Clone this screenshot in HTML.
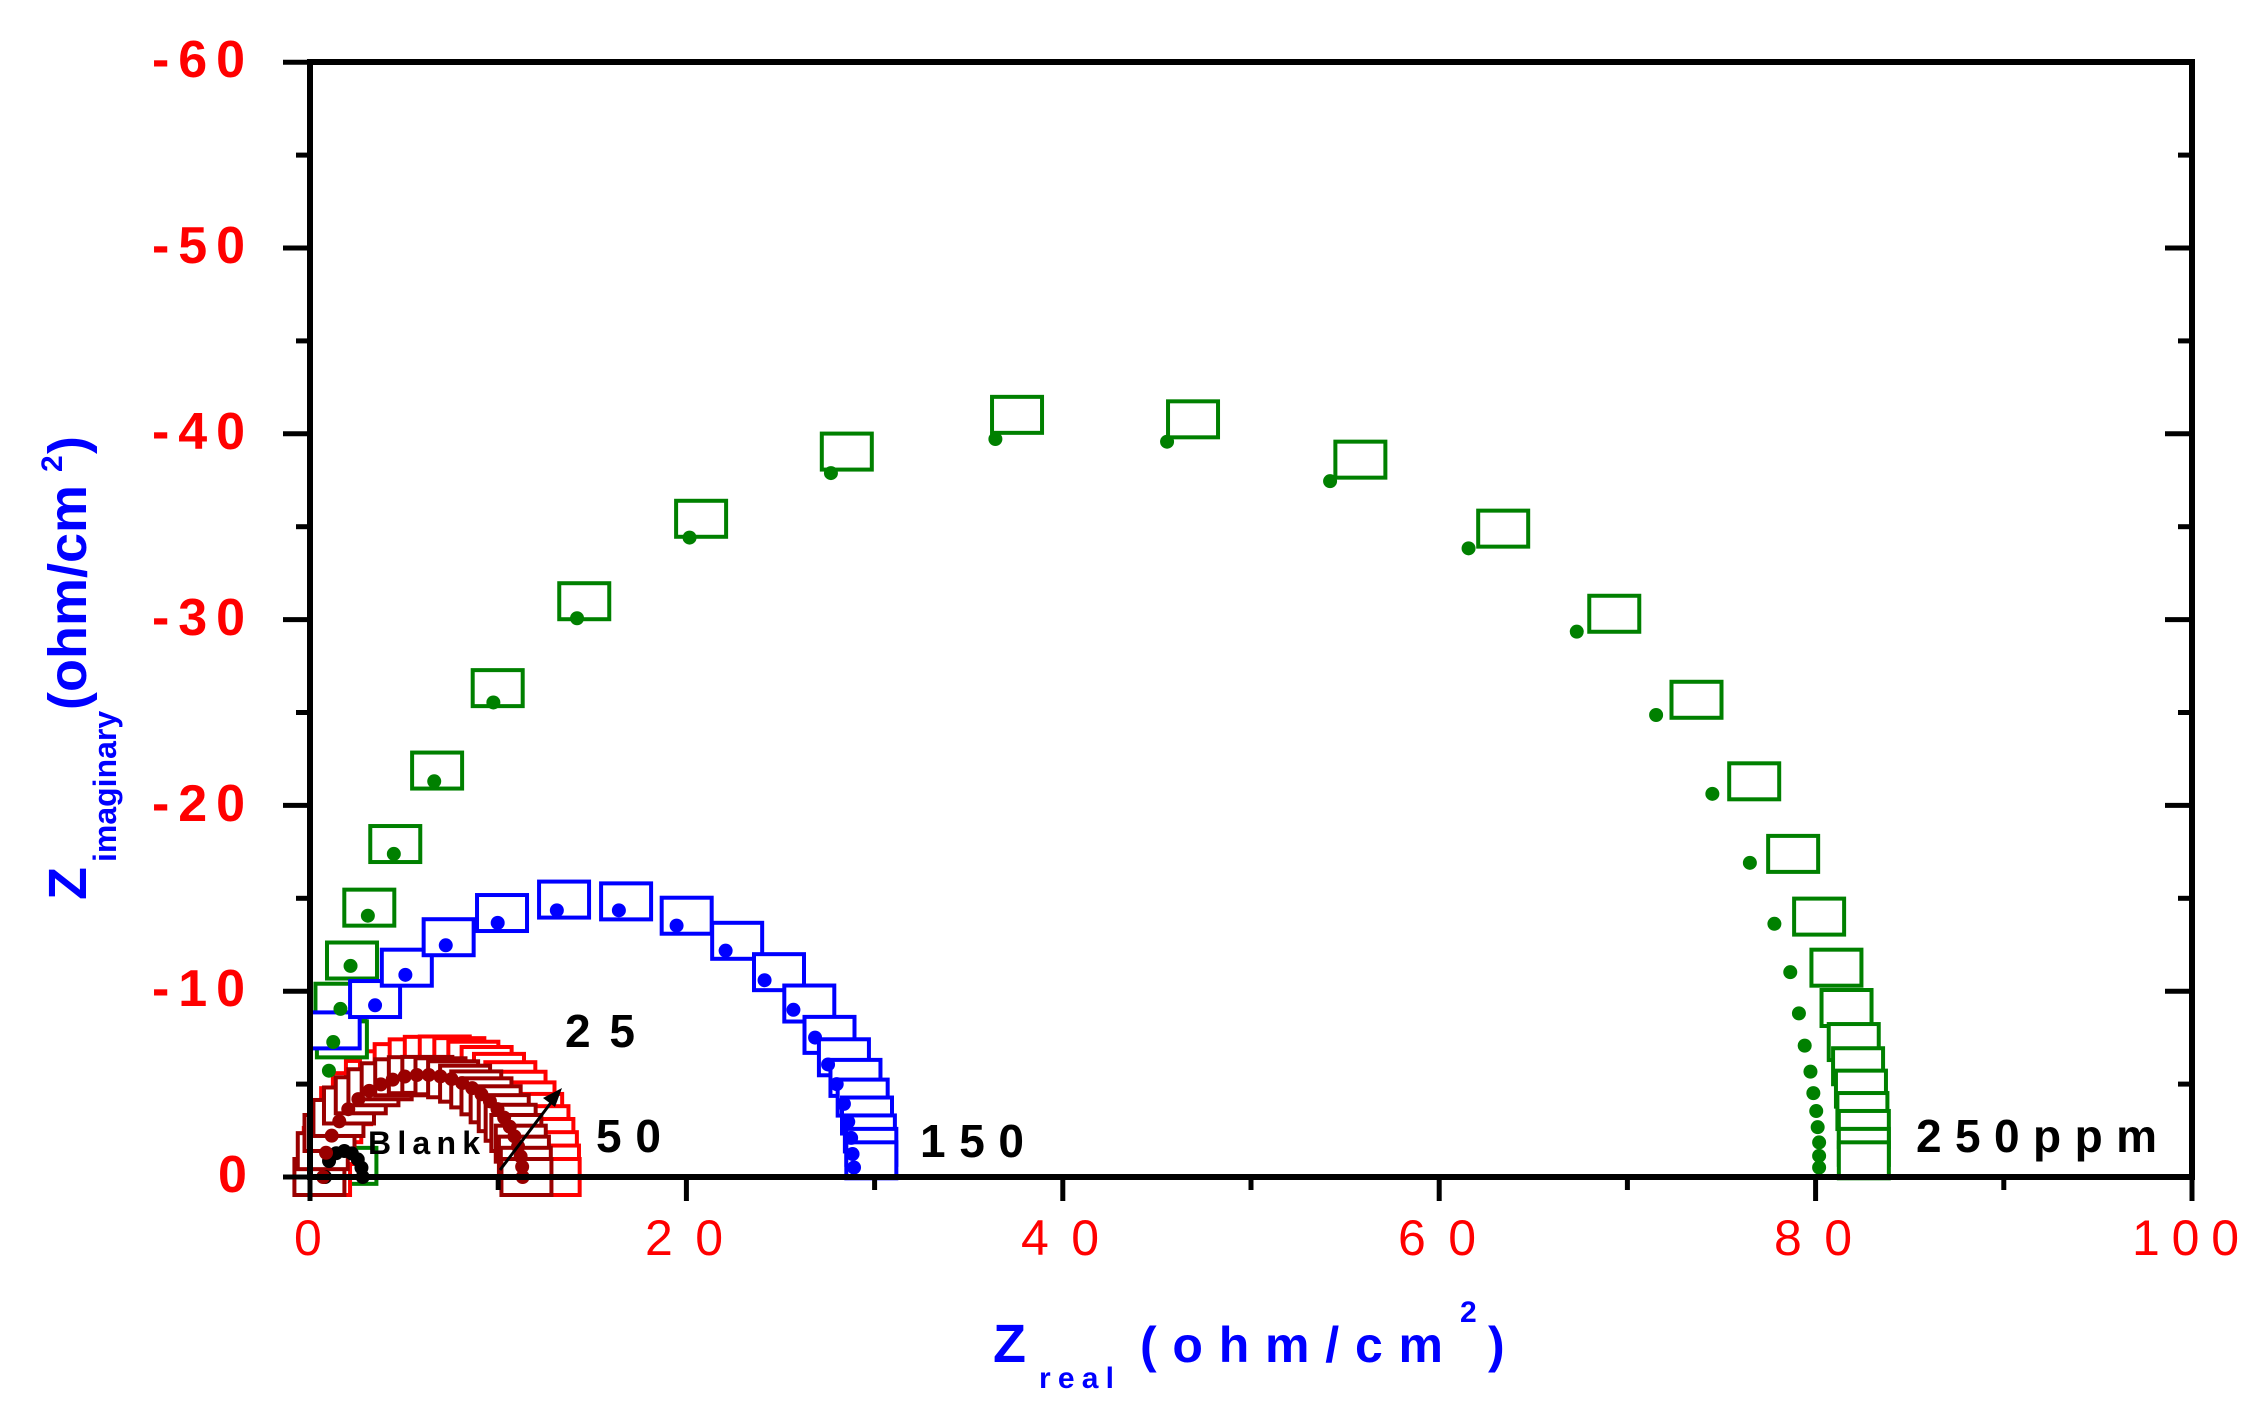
<!DOCTYPE html>
<html><head><meta charset="utf-8">
<style>
html,body{margin:0;padding:0;background:#fff;}
svg{display:block;}
text{font-family:"Liberation Sans",Arial,sans-serif;}
</style></head>
<body>
<svg id="s" width="2262" height="1405" viewBox="0 0 2262 1405" xmlns="http://www.w3.org/2000/svg">
<g id="sq"></g>
<g id="dots"></g>
<g id="axes" stroke="#000" stroke-width="6" fill="none">
<rect x="310" y="62" width="1882" height="1115"/>
</g>
<g id="ticks" stroke="#000" stroke-width="5"></g>
<g font-weight="bold" fill="#ff0000" font-size="52">
<text x="152" y="77" textLength="93" lengthAdjust="spacing">-60</text>
<text x="152" y="263" textLength="93" lengthAdjust="spacing">-50</text>
<text x="152" y="449" textLength="93" lengthAdjust="spacing">-40</text>
<text x="152" y="635" textLength="93" lengthAdjust="spacing">-30</text>
<text x="152" y="821" textLength="93" lengthAdjust="spacing">-20</text>
<text x="152" y="1006" textLength="93" lengthAdjust="spacing">-10</text>
<text x="218" y="1192">0</text>
</g>
<g fill="#ff0000" font-size="50">
<text x="294" y="1255">0</text>
<text x="645" y="1255" textLength="78" lengthAdjust="spacing">20</text>
<text x="1021" y="1255" textLength="78" lengthAdjust="spacing">40</text>
<text x="1398" y="1255" textLength="78" lengthAdjust="spacing">60</text>
<text x="1774" y="1255" textLength="78" lengthAdjust="spacing">80</text>
<text x="2132" y="1255" textLength="107" lengthAdjust="spacing">100</text>
</g>
<g fill="#000" font-size="46" font-weight="bold">
<text x="565" y="1047" textLength="70" lengthAdjust="spacing">25</text>
<text x="596" y="1152" textLength="65" lengthAdjust="spacing">50</text>
<text x="920" y="1157" textLength="104" lengthAdjust="spacing">150</text>
<text x="1916" y="1152" textLength="241" lengthAdjust="spacing">250ppm</text>
<text x="368" y="1154" font-size="32" textLength="112" lengthAdjust="spacing">Blank</text>
</g>
<line x1="500" y1="1170" x2="553" y2="1100" stroke="#000" stroke-width="3"/>
<polygon points="562,1088 543,1098 555,1107" fill="#000"/>
<g fill="#0000ff" font-weight="bold">
<text x="993" y="1362" font-size="54">Z</text>
<text x="1039" y="1388" font-size="30" textLength="75" lengthAdjust="spacing">real</text>
<text x="1140" y="1362" font-size="50" textLength="303" lengthAdjust="spacing">(ohm/cm</text>
<text x="1460" y="1322" font-size="30">2</text>
<text x="1488" y="1362" font-size="50">)</text>
</g>
<g transform="translate(86,900) rotate(-90)" fill="#0000ff" font-weight="bold">
<text x="0" y="0" font-size="54">Z</text>
<text x="38" y="30" font-size="32">imaginary</text>
<text x="190" y="0" font-size="54">(ohm/cm</text>
<text x="428" y="-24" font-size="30">2</text>
<text x="446" y="0" font-size="54">)</text>
</g>
</svg>
<script>
var NS="http://www.w3.org/2000/svg";
function X(x){return 310+18.82*x;}
function Y(z){return 1177-18.58*z;}
function el(g,t,a){var e=document.createElementNS(NS,t);for(var k in a)e.setAttribute(k,a[k]);document.getElementById(g).appendChild(e);}
function sq(px,py,c){el("sq","rect",{x:px-25,y:py-18,width:50,height:36,fill:"#fff",stroke:c,"stroke-width":4});}
function dot(px,py,c,r){el("dots","circle",{cx:px,cy:py,r:r||6,fill:c});}
for(var i=0;i<=12;i++){var z=i*5,y=Y(z),L=(i%2==0)?27:14;
 el("ticks","line",{x1:310-L,y1:y,x2:310,y2:y});
 el("ticks","line",{x1:2192,y1:y,x2:2192-L,y2:y});}
for(var i=0;i<=10;i++){var x=X(i*10),L=(i%2==0)?24:13;
 el("ticks","line",{x1:x,y1:1177,x2:x,y2:1177+L});}
function cx(a){return a*1.4426;} function cy(a){return a*0.896;}
var gs=[[237,1160],[236,1118],[244,1072],[256,1013],[274,942],[303,860],[345,768],[405,671],[486,579],[587,504],[705,463],[827,468],[943,513],[1042,590],[1119,685],[1176,781],[1216,872],[1243,953],[1261,1023],[1273,1080],[1280,1125],[1285,1163],[1288,1190],[1290,1215],[1291,1240],[1292,1260],[1292,1280],[1292,1295]];
var gd=[[228,1195],[231,1163],[236,1126],[243,1078],[255,1022],[273,953],[301,872],[342,784],[400,690],[478,600],[576,528],[690,490],[809,493],[922,537],[1018,612],[1093,705],[1148,798],[1187,886],[1213,963],[1230,1031],[1241,1085],[1247,1131],[1251,1167],[1255,1196],[1257,1220],[1259,1240],[1260,1258],[1261,1275],[1261,1290],[1261,1303]];
var bs=[[232,1150],[260,1115],[282,1080],[311,1046],[348,1019],[391,1004],[434,1006],[476,1022],[511,1050],[540,1085],[561,1120],[575,1155],[585,1180],[593,1203],[598,1225],[601,1245],[603,1265],[604,1280],[604,1295]];
var bd=[[260,1122],[281,1088],[309,1055],[345,1030],[386,1016],[429,1016],[469,1033],[503,1061],[530,1094],[550,1127],[565,1158],[574,1188],[580,1210],[585,1232],[588,1252],[590,1270],[591,1288],[592,1303]];
function arc(c,r,h,n,col,isSq,off){for(var i=0;i<n;i++){var f=i/(n-1);var t=Math.PI*(1-Math.pow(f,0.8));var x=c+r*Math.cos(t),z=h*Math.sin(t);
 if(isSq)sq(X(x)+off,Y(z)-off,col);else dot(X(x),Y(z),col,7);}}
sq(X(2.2),Y(0.6),"#008000");
arc(1.8,1.0,1.4,8,"#000",false,0);
arc(6.9,6.1,6.6,24,"#ff0000",true,0);
arc(6.0,5.5,5.5,24,"#990000",true,0);
gs.forEach(function(p){sq(cx(p[0]),cy(p[1]),"#008000");});
bs.forEach(function(p){sq(cx(p[0]),cy(p[1]),"#0000ff");});
arc(6.0,5.3,5.5,26,"#990000",false,0);
gd.forEach(function(p){dot(cx(p[0]),cy(p[1]),"#008000",7);});
bd.forEach(function(p){dot(cx(p[0]),cy(p[1]),"#0000ff",7);});
</script>
</body></html>
